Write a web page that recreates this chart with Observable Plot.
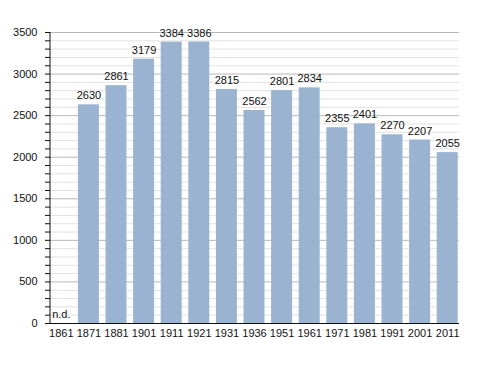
<!DOCTYPE html>
<html>
<head>
<meta charset="utf-8">
<script src="https://cdn.jsdelivr.net/npm/d3@7"></script>
<script src="https://cdn.jsdelivr.net/npm/@observablehq/plot@0.6"></script>
<style>
  body { margin: 0; background: #fff; }
  #chart svg { display: block; }
</style>
</head>
<body>
<div id="chart"></div>
<script>
const years = ["1861","1871","1881","1901","1911","1921","1931","1936","1951","1961","1971","1981","1991","2001","2011"];
const population = [null,2630,2861,3179,3384,3386,2815,2562,2801,2834,2355,2401,2270,2207,2055];
const majorTicks = [0,500,1000,1500,2000,2500,3000,3500];
const minorTicks = d3.range(0, 3501, 100).filter(v => v % 500 !== 0);

const data = years.map((y, i) => ({year: y, value: population[i]}));
const bars = data.filter(d => d.value != null);
const missing = data.filter(d => d.value == null);

// vertical axis line, 3px right of the band range start
const axisLine = (index, scales, values, dims) => {
  const g = d3.create("svg:line")
    .attr("x1", dims.marginLeft + 3).attr("x2", dims.marginLeft + 3)
    .attr("y1", dims.marginTop).attr("y2", dims.height - dims.marginBottom)
    .attr("stroke", "#111");
  return g.node();
};

const chart = Plot.plot({
  width: 488,
  height: 373,
  marginLeft: 47,
  marginRight: 27,
  marginTop: 32,
  marginBottom: 50,
  style: {fontFamily: "'Liberation Sans', Arial, sans-serif", fontSize: "11px", color: "#111", background: "#fff"},
  x: {domain: years, paddingInner: 0.24, paddingOuter: 0.12, round: false, label: null},
  y: {domain: [0, 3500], label: null},
  marks: [
    Plot.ruleY(minorTicks, {stroke: "#e2e2e2", strokeWidth: 1, insetLeft: 3, insetRight: 2}),
    Plot.ruleY(majorTicks.filter(v => v > 0), {stroke: "#b8b8b8", strokeWidth: 1, insetLeft: 3, insetRight: 2}),
    Plot.barY(bars, {x: "year", y: "value", fill: "#99b3d1"}),
    Plot.text(bars, {x: "year", y: "value", text: d => String(d.value), dy: -9, fill: "#111", fontSize: 11}),
    Plot.text(missing, {x: "year", y: 0, text: () => "n.d.", dy: -9, fill: "#111", fontSize: 11}),
    Plot.axisY({ticks: minorTicks, tickSize: 5, tickFormat: () => "", stroke: "#111", dx: 3}),
    Plot.axisY({ticks: majorTicks, tickSize: 5, tickPadding: 8, tickFormat: d3.format("d"), stroke: "#111", dx: 3}),
    Plot.axisX({tickSize: 0, tickPadding: 6}),
    axisLine,
    Plot.ruleY([0], {stroke: "#111", strokeWidth: 1.2, insetLeft: 3, insetRight: 2})
  ]
});
document.getElementById("chart").append(chart);
</script>
</body>
</html>
